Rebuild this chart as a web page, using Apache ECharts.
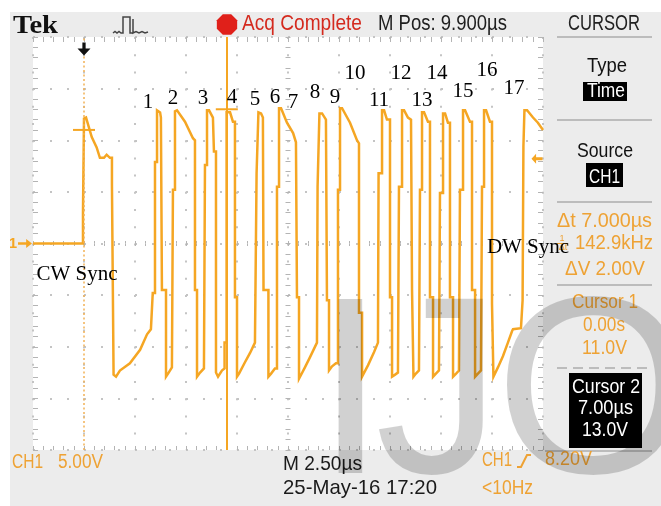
<!DOCTYPE html>
<html>
<head>
<meta charset="utf-8">
<script src="https://cdn.jsdelivr.net/npm/echarts@6/dist/echarts.min.js"></script>
<style>
html, body { margin: 0; padding: 0; background: #fff; }
#c { width: 661px; height: 506px; }
</style>
</head>
<body>
<div id="c"></div>
<script>
// Horizontal scale: microseconds relative to the trigger, 2.50 µs/div over 10 divisions
const timeMin = -2.5, timeMax = 22.5, timeStep = 2.5;
// Vertical scale: CH1 at 5.00 V/div over 8 divisions, ground at the centre line
const voltMin = -20, voltMax = 20, voltStep = 5;

// CH1 trace as [time µs, volts]: CW sync pulse after the trigger
const cwSyncTrace = [
  [-2.5, 0.0], [-0.05, 0.0], [-0.05, 3.0], [0.0, 3.0], [0.0, 12.1], [0.1, 12.2],
  [0.38, 10.3], [0.62, 9.3], [0.78, 8.3], [0.98, 8.3], [1.11, 8.6], [1.27, 8.3], [1.37, 8.3],
  [1.37, 5.7], [1.45, 5.7], [1.45, -12.7], [1.57, -12.9], [1.76, -12.3], [2.25, -11.6],
  [2.75, -10.3], [3.09, -8.8], [3.28, -8.3], [3.37, -8.2]
];

// Data bit pulses
const bitTrace = [
  [3.37, -4.8], [3.48, -4.8], [3.48, 7.9], [3.58, 7.9], [3.58, 12.9], [3.73, 12.7], [3.77, 12.2], [3.82, 12.2], [3.82, -4.5], [4.02, -4.5], [4.02, -12.9], [4.12, -12.6], [4.31, -12.0],
  [4.36, -12.0], [4.36, 5.2], [4.46, 5.2], [4.46, 12.8], [4.56, 12.9], [4.95, 11.8], [5.34, 10.2], [5.44, 10.0], [5.44, -4.5], [5.54, -4.5], [5.54, -12.9], [5.69, -12.5], [5.88, -12.1],
  [5.93, -12.1], [5.93, 7.6], [6.03, 7.6], [6.03, 12.9], [6.13, 12.9], [6.32, 12.2], [6.37, 12.2], [6.37, 8.9], [6.47, 8.9], [6.47, -12.5], [6.57, -12.9], [6.76, -12.3], [6.89, -12.1],
  [6.89, -9.6], [6.99, -9.6], [6.99, 12.7], [7.16, 12.7], [7.30, 11.8], [7.40, 11.8], [7.40, -5.2], [7.50, -5.2], [7.50, -12.9], [7.60, -12.6], [7.89, -11.5], [8.14, -10.6], [8.38, -9.6],
  [8.46, -9.6], [8.46, 6.8], [8.55, 6.8], [8.55, 12.7], [8.68, 12.6], [8.77, 12.2], [8.80, 12.2], [8.80, -4.5], [9.04, -4.5], [9.04, -12.9], [9.17, -12.6], [9.36, -12.1],
  [9.46, -12.1], [9.46, 5.5], [9.56, 5.5], [9.56, 13.1], [9.66, 13.1], [9.95, 11.7], [10.25, 10.7], [10.39, 9.8], [10.44, 9.8], [10.44, -5.2], [10.54, -5.2], [10.54, -13.1], [10.83, -12.0], [11.08, -11.0], [11.42, -9.6],
  [11.45, -9.6], [11.45, 5.5], [11.54, 5.5], [11.54, 12.6], [11.67, 12.6], [11.86, 12.0], [11.91, 12.0], [11.91, -5.5], [12.01, -5.5], [12.01, -12.3], [12.16, -11.9], [12.35, -11.6],
  [12.45, -11.6], [12.45, 5.2], [12.55, 5.2], [12.55, 13.1], [12.65, 13.1], [13.04, 11.7], [13.38, 10.0], [13.48, 9.7], [13.48, -6.7], [13.63, -6.7], [13.63, -12.9], [13.92, -11.8], [14.22, -10.5], [14.41, -9.6],
  [14.44, -9.6], [14.44, 6.8], [14.61, 6.8], [14.61, 12.9], [14.71, 12.9], [14.85, 12.0], [15.00, 12.0], [15.00, -5.2], [15.10, -5.2], [15.10, -12.9], [15.25, -12.7], [15.39, -12.5],
  [15.44, -12.5], [15.44, 5.5], [15.59, 5.5], [15.59, 12.9], [15.69, 12.9], [15.88, 12.2], [16.03, 12.0], [16.08, 12.0], [16.08, -4.5], [16.15, -4.5], [16.15, -12.9], [16.27, -12.6], [16.42, -12.3],
  [16.47, -12.3], [16.47, 5.2], [16.57, 5.2], [16.57, 12.7], [16.67, 12.7], [16.86, 11.8], [16.96, 11.8], [16.96, -5.2], [17.11, -5.2], [17.11, -12.9], [17.25, -12.6], [17.40, -12.3],
  [17.45, -12.3], [17.45, 4.9], [17.60, 4.9], [17.60, 12.6], [17.70, 12.6], [17.84, 11.7], [17.94, 11.7], [17.94, -5.2], [18.09, -5.2], [18.09, -12.9], [18.24, -12.6], [18.38, -12.3],
  [18.43, -12.3], [18.43, 5.2], [18.58, 5.2], [18.58, 12.9], [18.68, 12.9], [18.92, 11.8], [19.02, 11.8], [19.02, -4.5], [19.17, -4.5], [19.17, -12.9], [19.31, -12.6], [19.46, -12.3],
  [19.51, -12.3], [19.51, 5.5], [19.61, 5.5], [19.61, 12.9], [19.71, 12.9], [19.90, 11.8], [20.00, 11.8], [20.00, -5.8], [20.07, -5.8], [20.07, -12.9]
];

// DW sync ramp and the final rising edge
const dwSyncTrace = [
  [20.29, -12.0], [20.54, -10.9], [20.78, -9.6], [20.98, -8.5], [21.03, -8.3], [21.42, -8.2], [21.5, -8.2],
  [21.5, -5.5], [21.54, -5.5], [21.54, 9.4], [21.59, 9.4], [21.59, 12.9], [21.72, 12.9],
  [22.01, 12.2], [22.25, 11.7], [22.5, 11.0]
];

// Cursor, trigger and ground settings
const cursor1 = { time: 0.0, volt: 11.0 };
const cursor2 = { time: 7.0, volt: 13.0 };
const triggerLevel = 8.2;
const groundLevel = 0;

// Annotation and readout texts
const bitLabels = ['1', '2', '3', '4', '5', '6', '7', '8', '9', '10', '11', '12', '13', '14', '15', '16', '17'];
const syncLabels = ['CW Sync', 'DW Sync'];
const headerTexts = { brand: 'Tek', status: 'Acq Complete', position: 'M Pos: 9.900\u00b5s', menu: 'CURSOR' };
const menuTexts = { type: 'Type', typeValue: 'Time', source: 'Source', sourceValue: 'CH1' };
const readouts = { dt: '\u0394t 7.000\u00b5s', freq: '142.9kHz', dv: '\u0394V 2.00V',
  c1: 'Cursor 1', c1t: '0.00s', c1v: '11.0V', c2: 'Cursor 2', c2t: '7.00\u00b5s', c2v: '13.0V' };
const footerTexts = { ch: 'CH1', scale: '5.00V', timebase: 'M 2.50\u00b5s', stamp: '25-May-16 17:20',
  trigCh: 'CH1', trigLevel: '8.20V', rate: '<10Hz' };
const watermark = ['I', 'J', 'O'];

// ---- styling ----
const TRACE = '#f5a623';
const ORANGE = '#eea234';
const PANEL = '#ececec';
const SANS = '"Liberation Sans", Arial, sans-serif';
const SERIF = '"Liberation Serif", "Times New Roman", serif';
const tickLine = { color: '#b4b4b4', width: 1 };

const measureCtx = document.createElement('canvas').getContext('2d');
// text squeezed horizontally to a given width (condensed instrument font)
function fitText(text, left, base, width, size, fill, o) {
  o = o || {};
  const family = o.family || SANS, weight = o.weight || 'normal';
  const font = weight + ' ' + size + 'px ' + family;
  measureCtx.font = font;
  const sx = width / measureCtx.measureText(text).width;
  return { type: 'text', x: left, y: base - 0.345 * size, scaleX: sx, z: o.z || 20, silent: true,
    style: { text: text, x: 0, y: 0, fill: fill, font: font,
      align: 'left', verticalAlign: 'middle', textAlign: 'left', textVerticalAlign: 'middle' } };
}
function centerText(text, cx, cy, size, fill, family, z) {
  const font = 'normal ' + size + 'px ' + (family || SERIF);
  return { type: 'text', x: cx, y: cy, z: z || 20, silent: true,
    style: { text: text, x: 0, y: 0, fill: fill, font: font,
      align: 'center', verticalAlign: 'middle', textAlign: 'center', textVerticalAlign: 'middle' } };
}
function hline(x1, x2, y, color, width, dash) {
  return { type: 'line', z: 5, silent: true, shape: { x1: x1, y1: y, x2: x2, y2: y },
    style: { stroke: color, lineWidth: width, lineDash: dash || null } };
}
function box(x, y, w, h, fill) {
  return { type: 'rect', z: 6, silent: true, shape: { x: x, y: y, width: w, height: h }, style: { fill: fill } };
}
function octagon(cx, cy, r) {
  const pts = [];
  for (let k = 0; k < 8; k++) {
    const a = Math.PI / 8 + k * Math.PI / 4;
    pts.push([cx + r * Math.cos(a), cy + r * Math.sin(a)]);
  }
  return pts;
}

// annotation anchor points on the screen (layout only)
const bitLabelAt = [[148, 102], [173, 98], [203, 98], [232, 97], [255, 99], [275, 97], [293, 102], [315, 92],
  [335, 97], [355, 73], [379, 100], [401, 73], [422, 100], [437, 73], [463, 91], [487, 70], [514, 88]];

const graphics = [
  // white outer margins
  box(0, 0, 661, 12, '#ffffff'),
  box(0, 0, 10, 506, '#ffffff'),
  // header
  fitText(headerTexts.brand, 13, 35, 45, 26, '#111', { family: SERIF, weight: 'bold' }),
  { type: 'polyline', z: 20, silent: true,
    shape: { points: [[113, 33], [115, 31.5], [117, 33], [119, 31.5], [121, 33], [123, 33], [123, 17], [130, 17], [130, 33],
      [133, 33], [133, 19], [133, 33], [136, 31.5], [139, 33], [142, 31.5], [145, 33], [148, 32]] },
    style: { stroke: '#444', lineWidth: 1.5, fill: null } },
  { type: 'polygon', z: 20, silent: true, shape: { points: octagon(227, 24.5, 11) }, style: { fill: '#e0201a' } },
  fitText(headerTexts.status, 242, 32, 120, 22, '#d42a1e'),
  fitText(headerTexts.position, 378, 32, 129, 22, '#1e1e1e'),
  fitText(headerTexts.menu, 568, 32, 72, 22, '#222'),
  // side menu
  hline(557, 652, 37, '#acacac', 1.5),
  fitText(menuTexts.type, 587, 73, 40, 20, '#111'),
  box(583, 82, 44, 19, '#000'),
  fitText(menuTexts.typeValue, 587, 98, 38, 20, '#fff'),
  hline(557, 652, 120, '#acacac', 1.5),
  fitText(menuTexts.source, 577, 158, 56, 21, '#111'),
  box(586, 163, 37, 24, '#000'),
  fitText(menuTexts.sourceValue, 589, 184, 31, 21, '#fff'),
  hline(557, 652, 202, '#acacac', 1.5),
  fitText(readouts.dt, 557, 228, 95, 21, ORANGE),
  centerText('1', 562, 239, 9, ORANGE, SANS),
  hline(557, 568, 243.5, ORANGE, 1),
  centerText('\u0394t', 563, 248, 9, ORANGE, SANS),
  fitText(readouts.freq, 575, 250, 78, 20, ORANGE),
  fitText(readouts.dv, 565, 276, 80, 21, ORANGE),
  hline(557, 652, 285, '#acacac', 1.5),
  fitText(readouts.c1, 572, 309, 66, 21, ORANGE),
  fitText(readouts.c1t, 583, 332, 42, 21, ORANGE),
  fitText(readouts.c1v, 582, 355, 45, 21, ORANGE),
  hline(557, 652, 368, '#acacac', 1.5, [10, 6]),
  box(569, 373, 73, 75, '#000'),
  fitText(readouts.c2, 572, 394, 68, 21, '#fff'),
  fitText(readouts.c2t, 578, 415, 55, 21, '#fff'),
  fitText(readouts.c2v, 582, 437, 46, 21, '#fff'),
  hline(545, 652, 451, '#acacac', 1.5),
  // footer
  fitText(footerTexts.ch, 12, 469, 31, 20, ORANGE),
  fitText(footerTexts.scale, 58, 469, 45, 20, ORANGE),
  fitText(footerTexts.timebase, 283, 471, 79, 21, '#1a1a1a'),
  fitText(footerTexts.stamp, 283, 495, 154, 21, '#1a1a1a'),
  fitText(footerTexts.trigCh, 482, 467, 30, 20, ORANGE),
  { type: 'polyline', z: 20, silent: true, shape: { points: [[517, 467], [521, 467], [527, 455], [531, 455]] },
    style: { stroke: ORANGE, lineWidth: 2, fill: null } },
  fitText(footerTexts.trigLevel, 545, 466, 47, 20, ORANGE),
  fitText(footerTexts.rate, 482, 495, 51, 20, ORANGE),
  // sync annotations
  centerText(syncLabels[0], 77, 274, 21, '#000'),
  centerText(syncLabels[1], 528, 247, 21, '#000')
];
bitLabels.forEach(function (t, i) {
  graphics.push(centerText(t, bitLabelAt[i][0], bitLabelAt[i][1], 21, '#000'));
});
// semi-transparent watermark letters
const wmFont = 'normal 253px ' + SANS;
const wmFill = 'rgba(0,0,0,0.18)';
[[350.5, 'center'], [375, 'left'], [495, 'left']].forEach(function (p, i) {
  graphics.push({ type: 'text', x: p[0], y: 403, z: 60, silent: true,
    style: { text: watermark[i], x: 0, y: 0, fill: wmFill, font: wmFont,
      align: p[1], verticalAlign: 'middle', textAlign: p[1], textVerticalAlign: 'middle' } });
});

// ---- axes: border ticks, centre-line ticks and dotted graticule ----
function xAxisCfg(extra) {
  return Object.assign({
    type: 'value', min: timeMin, max: timeMax, interval: timeStep,
    axisLabel: { show: false }, axisLine: { show: false, onZero: false },
    splitLine: { show: false }, axisPointer: { show: false },
    axisTick: { show: true, inside: true, length: 4, lineStyle: tickLine },
    minorTick: { show: true, splitNumber: 5, length: 4, lineStyle: tickLine }
  }, extra);
}
function yAxisCfg(extra) {
  return Object.assign({
    type: 'value', min: voltMin, max: voltMax, interval: voltStep,
    axisLabel: { show: false }, axisLine: { show: false, onZero: false },
    splitLine: { show: false }, axisPointer: { show: false },
    axisTick: { show: true, inside: true, length: 5, lineStyle: tickLine },
    minorTick: { show: true, splitNumber: 5, length: 5, lineStyle: tickLine }
  }, extra);
}
const centreTick = function (inside) {
  return { axisTick: { show: true, inside: inside, length: 2.5, lineStyle: tickLine },
    minorTick: { show: true, splitNumber: 5, length: 2.5, lineStyle: tickLine } };
};

const arrowLeft = 'path://M0,5L5,0L5,3.5L12,3.5L12,6.5L5,6.5L5,10Z';
const arrowRight = 'path://M12,5L7,0L7,3.5L0,3.5L0,6.5L7,6.5L7,10Z';
const arrowDown = 'path://M4.5,0L7.5,0L7.5,6L12,6L6,13L0,6L4.5,6Z';

const option = {
  animation: false,
  backgroundColor: PANEL,
  grid: { left: 33, top: 37, width: 510, height: 413, show: true, backgroundColor: '#ffffff', borderWidth: 0, containLabel: false },
  xAxis: [
    xAxisCfg({ position: 'bottom',
      splitLine: { show: true, lineStyle: { color: '#c4c4c4', width: 2, type: [2, 15.2] } } }),
    xAxisCfg({ position: 'top', axisTick: { show: true, inside: true, length: 5, lineStyle: tickLine },
      minorTick: { show: true, splitNumber: 5, length: 5, lineStyle: tickLine } }),
    xAxisCfg(Object.assign({ position: 'bottom', offset: -206.5 }, centreTick(true))),
    xAxisCfg(Object.assign({ position: 'bottom', offset: -206.5 }, centreTick(false)))
  ],
  yAxis: [
    yAxisCfg({ position: 'left',
      splitLine: { show: true, lineStyle: { color: '#c4c4c4', width: 2, type: [2, 15] } } }),
    yAxisCfg({ position: 'right' }),
    yAxisCfg(Object.assign({ position: 'left', offset: -255 }, centreTick(true))),
    yAxisCfg(Object.assign({ position: 'left', offset: -255 }, centreTick(false)))
  ],
  series: [{
    type: 'line',
    xAxisIndex: 0, yAxisIndex: 0,
    data: cwSyncTrace.concat(bitTrace, dwSyncTrace),
    showSymbol: false, symbol: 'none', clip: false, z: 3,
    lineStyle: { color: TRACE, width: 2.5, join: 'miter' },
    markLine: {
      silent: true, symbol: ['none', 'none'], label: { show: false }, animation: false,
      data: [
        { xAxis: cursor1.time, lineStyle: { color: '#f2b155', width: 1.5, type: [2, 2.5] } },
        { xAxis: cursor2.time, lineStyle: { color: TRACE, width: 2, type: 'solid' } }
      ]
    },
    markPoint: {
      silent: true, animation: false, label: { show: false },
      data: [
        { coord: [cursor1.time, cursor1.volt], symbol: 'rect', symbolSize: [22, 2], itemStyle: { color: TRACE } },
        { coord: [cursor2.time, cursor2.volt], symbol: 'rect', symbolSize: [22, 2], itemStyle: { color: TRACE } },
        { coord: [timeMax, triggerLevel], symbol: arrowLeft, symbolSize: [11, 10], symbolOffset: [-6, 0], itemStyle: { color: TRACE } },
        { coord: [timeMin, groundLevel], symbol: arrowRight, symbolSize: [14, 9], symbolOffset: [-8, 0], itemStyle: { color: TRACE },
          label: { show: true, formatter: '1', position: 'left', distance: 1, color: TRACE, fontSize: 15, fontWeight: 'bold', fontFamily: SANS } },
        { coord: [cursor1.time, voltMax], symbol: arrowDown, symbolSize: [13, 13], symbolOffset: [0, 12], itemStyle: { color: '#111' } }
      ]
    }
  }],
  graphic: { elements: graphics }
};

const chart = echarts.init(document.getElementById('c'), null, { renderer: 'canvas', width: 661, height: 506 });
chart.setOption(option);
</script>
</body>
</html>
